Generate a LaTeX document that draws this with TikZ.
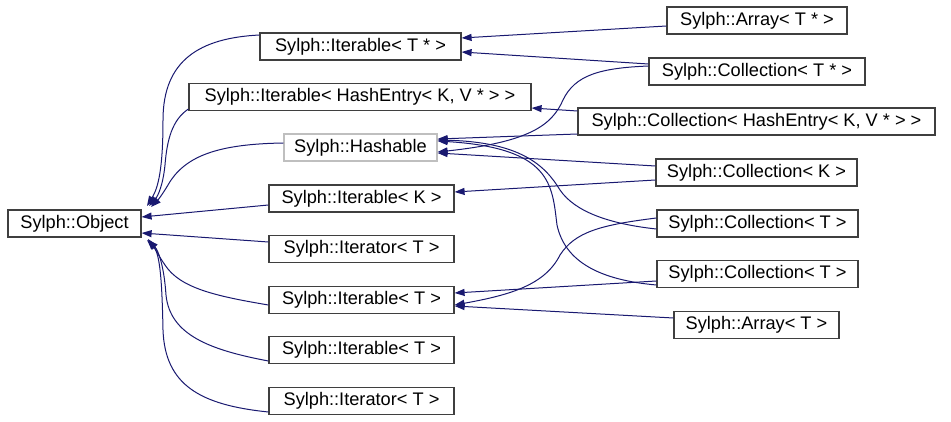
\documentclass[tikz,border=0pt]{standalone}
\usepackage{fontspec}
\setmainfont{Liberation Sans}
\usetikzlibrary{arrows.meta}
\definecolor{edgec}{HTML}{191970}
\definecolor{boxc}{HTML}{3F3F3F}
\definecolor{hashc}{HTML}{BFBFBF}
\begin{document}
\begin{tikzpicture}[x=1pt,y=-1pt,
  cls/.style={draw=boxc, line width=1.2pt, fill=white, inner sep=0pt,
    minimum height=27pt, text height=13.2pt, text depth=3.8pt,
    font=\fontsize{18.2}{20}\selectfont},
  grey/.style={cls, draw=hashc},
  edge/.style={draw=edgec, line width=1pt,
    -{Triangle[length=10pt,width=7pt]}, fill=none}]
\useasboundingbox (0,0) rectangle (951,422);
% left column
\node[cls, minimum width=133pt] (obj) at (74.5,223.5) {Sylph::Object};
\node[cls, minimum width=201pt] (itTp) at (360.5,46.5) {Sylph::Iterable< T * >};
\node[cls, minimum width=342pt] (itHE) at (360,97) {Sylph::Iterable< HashEntry< K, V * > >};
\node[grey, minimum width=153pt] (hash) at (360.5,147.5) {Sylph::Hashable};
\node[cls, minimum width=185pt] (itK) at (361.5,198.5) {Sylph::Iterable< K >};
\node[cls, minimum width=185pt] (itorA) at (361.5,249) {Sylph::Iterator< T >};
\node[cls, minimum width=185pt] (itT) at (361.5,300) {Sylph::Iterable< T >};
\node[cls, minimum width=185pt] (itT2) at (361.5,350) {Sylph::Iterable< T >};
\node[cls, minimum width=185pt] (itorB) at (361.5,401) {Sylph::Iterator< T >};
% right column
\node[cls, minimum width=180pt] (arTp) at (757,20.5) {Sylph::Array< T * >};
\node[cls, minimum width=216pt] (coTp) at (757,71.5) {Sylph::Collection< T * >};
\node[cls, minimum width=357pt] (coHE) at (756.5,121.5) {Sylph::Collection< HashEntry< K, V * > >};
\node[cls, minimum width=201pt] (coK) at (756.5,172.5) {Sylph::Collection< K >};
\node[cls, minimum width=201pt] (coT1) at (757.5,223.5) {Sylph::Collection< T >};
\node[cls, minimum width=201pt] (coT2) at (757.5,274) {Sylph::Collection< T >};
\node[cls, minimum width=165pt] (arT) at (756.5,325) {Sylph::Array< T >};
% edges to Object
\draw[edge] (itTp.west |- 0,35) .. controls (200,38) and (163,60) .. (163,120)
  .. controls (163,170) and (158,188) .. (147,206);
\draw[edge] (itHE.west |- 0,109) .. controls (172,120) and (167,140) .. (165,165)
  .. controls (163,185) and (158,196) .. (149,206);
\draw[edge] (hash.west |- 0,143) .. controls (220,144) and (185,155) .. (168,185)
  .. controls (162,195) and (158,200) .. (151,207);
\draw[edge] (itK.west |- 0,205) -- (obj.east |- 0,217);
\draw[edge] (itorA.west |- 0,242) -- (obj.east |- 0,233);
\draw[edge] (itT.west |- 0,305) .. controls (215,296) and (180,288) .. (165,265)
  .. controls (158,255) and (155,248) .. (147,240);
\draw[edge] (itT2.west |- 0,361) .. controls (210,350) and (170,335) .. (166,295)
  .. controls (164,265) and (158,250) .. (148,240);
\draw[edge] (itorB.west |- 0,412) .. controls (200,405) and (165,385) .. (163,330)
  .. controls (162,280) and (160,255) .. (148,239);
% right edges
\draw[edge] (arTp.west |- 0,26) -- (itTp.east |- 0,38);
\draw[edge] (coTp.west |- 0,64) -- (itTp.east |- 0,52);
\draw[edge] (coTp.west |- 0,66) .. controls (600,68) and (575,75) .. (563,100)
  .. controls (552,125) and (530,142) .. (hash.east |- 0,152);
\draw[edge] (coHE.west |- 0,111) -- (itHE.east |- 0,108);
\draw[edge] (coHE.west |- 0,134) -- (hash.east |- 0,139);
\draw[edge] (coK.west |- 0,166) -- (hash.east |- 0,153);
\draw[edge] (coK.west |- 0,180) -- (itK.east |- 0,192);
\draw[edge] (coT1.west |- 0,229) .. controls (610,224) and (575,212) .. (560,190)
  .. controls (545,165) and (520,142) .. (hash.east |- 0,140);
\draw[edge] (coT2.west |- 0,285) .. controls (600,280) and (565,262) .. (557,225)
  .. controls (552,185) and (552,148) .. (hash.east |- 0,141);
\draw[edge] (coT1.west |- 0,218) .. controls (600,225) and (575,232) .. (560,255)
  .. controls (545,285) and (510,295) .. (itT.east |- 0,305);
\draw[edge] (coT2.west |- 0,281) -- (itT.east |- 0,293);
\draw[edge] (arT.west |- 0,318) -- (itT.east |- 0,306);
\end{tikzpicture}
\end{document}
